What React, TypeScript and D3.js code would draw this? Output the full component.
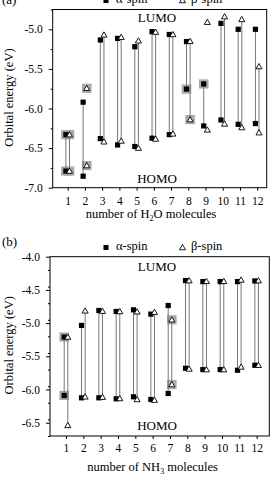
import React, { useEffect, useRef } from 'react';
import * as d3 from 'd3';

const molecules = [1, 2, 3, 4, 5, 6, 7, 8, 9, 10, 11, 12];

// (a) water clusters, orbital energies in eV
const h2oAlphaLumo = [-6.33, -5.92, -5.135, -5.115, -5.22, -5.03, -5.065, -5.155, -5.69, -4.925, -5.0, -5.0];
const h2oAlphaHomo = [-6.79, -6.855, -6.38, -6.46, -6.48, -6.375, -6.33, -5.755, -6.22, -6.145, -6.2, -6.19];
const h2oBetaLumo = [-6.33, -5.745, -5.07, -5.1, -5.145, -5.035, -5.065, -5.15, -4.91, -4.84, -4.875, -5.47];
const h2oBetaHomo = [-6.79, -6.72, -6.42, -6.41, -6.5, -6.385, -6.32, -6.14, -6.27, -6.195, -6.24, -6.305];
// highlighted (grey box) points, by molecule count
const h2oAlphaLumoMarked = [1, 9];
const h2oAlphaHomoMarked = [1, 8];
const h2oBetaLumoMarked = [1, 2];
const h2oBetaHomoMarked = [1, 2, 8];
// counts where no LUMO-HOMO connector is drawn
const h2oAlphaNoLine: number[] = [];
const h2oBetaNoLine = [2, 9];
const h2oTicks = [-7.0, -6.5, -6.0, -5.5, -5.0];

// (b) ammonia clusters
const nh3AlphaLumo = [-5.21, -5.035, -4.81, -4.825, -4.8, -4.865, -4.735, -4.36, -4.375, -4.375, -4.375, -4.365];
const nh3AlphaHomo = [-6.09, -6.125, -6.125, -6.14, -6.11, -6.15, -6.06, -5.68, -5.7, -5.7, -5.71, -5.635];
const nh3BetaLumo = [-5.21, -4.815, -4.82, -4.825, -4.83, -4.835, -4.95, -4.36, -4.37, -4.37, -4.35, -4.36];
const nh3BetaHomo = [-6.54, -6.11, -6.115, -6.135, -6.15, -6.16, -5.925, -5.69, -5.7, -5.7, -5.66, -5.635];
const nh3AlphaLumoMarked = [1];
const nh3AlphaHomoMarked = [1];
const nh3BetaLumoMarked = [7];
const nh3BetaHomoMarked = [7];
const nh3AlphaNoLine: number[] = [];
const nh3BetaNoLine: number[] = [];
const nh3Ticks = [-6.5, -6.0, -5.5, -5.0, -4.5, -4.0];

const FONT = '"Liberation Serif", "Times New Roman", serif';

const drawPanel = (svg, cfg) => {
  const x = d3.scaleLinear().domain(cfg.xDomain).range([cfg.left, cfg.right]);
  const y = d3.scaleLinear().domain(cfg.yDomain).range([cfg.bottom, cfg.top]);
  const g = svg.append('g');

  // grey highlight boxes
  const marks = [
    ...cfg.alphaLumoMarked.map(n => ({ n, v: cfg.alphaLumo[n - 1], dx: -1.8 })),
    ...cfg.alphaHomoMarked.map(n => ({ n, v: cfg.alphaHomo[n - 1], dx: -1.8 })),
    ...cfg.betaLumoMarked.map(n => ({ n, v: cfg.betaLumo[n - 1], dx: 1.8 })),
    ...cfg.betaHomoMarked.map(n => ({ n, v: cfg.betaHomo[n - 1], dx: 1.8 })),
  ];
  g.append('g').selectAll('rect').data(marks).join('rect')
    .attr('x', d => x(d.n) + d.dx - 4.8)
    .attr('y', d => y(d.v) - 4.6)
    .attr('width', 9.6)
    .attr('height', 9.2)
    .attr('fill', '#aaaaaa');

  // connectors
  const lines = [
    ...molecules.filter(n => !cfg.alphaNoLine.includes(n))
      .map(n => ({ n, a: cfg.alphaLumo[n - 1], b: cfg.alphaHomo[n - 1], dx: -1.8 })),
    ...molecules.filter(n => !cfg.betaNoLine.includes(n))
      .map(n => ({ n, a: cfg.betaLumo[n - 1], b: cfg.betaHomo[n - 1], dx: 1.8 })),
  ];
  g.append('g').selectAll('line').data(lines).join('line')
    .attr('x1', d => x(d.n) + d.dx).attr('x2', d => x(d.n) + d.dx)
    .attr('y1', d => y(d.a)).attr('y2', d => y(d.b))
    .attr('stroke', '#777').attr('stroke-width', 1);

  // alpha squares
  const alphaPts = molecules.flatMap(n => [
    { n, v: cfg.alphaLumo[n - 1] }, { n, v: cfg.alphaHomo[n - 1] },
  ]);
  g.append('g').selectAll('rect').data(alphaPts).join('rect')
    .attr('x', d => x(d.n) - 1.8 - 2.6)
    .attr('y', d => y(d.v) - 2.6)
    .attr('width', 5.2).attr('height', 5.2)
    .attr('fill', '#000');

  // beta triangles
  const betaPts = molecules.flatMap(n => [
    { n, v: cfg.betaLumo[n - 1] }, { n, v: cfg.betaHomo[n - 1] },
  ]);
  const tri = d3.symbol().type(d3.symbolTriangle).size(16);
  g.append('g').selectAll('path').data(betaPts).join('path')
    .attr('transform', d => `translate(${x(d.n) + 1.8},${y(d.v) + 0.5})`)
    .attr('d', tri())
    .attr('fill', '#fff').attr('stroke', '#000').attr('stroke-width', 0.9);

  // frame
  g.append('rect')
    .attr('x', cfg.left).attr('y', cfg.top)
    .attr('width', cfg.right - cfg.left).attr('height', cfg.bottom - cfg.top)
    .attr('fill', 'none').attr('stroke', '#000').attr('stroke-width', 1);

  // y axis: minor + major ticks
  const minor = d3.range(cfg.yDomain[0], cfg.yDomain[1] + 0.001, 0.25)
    .filter(v => !cfg.yTicks.some(t => Math.abs(t - v) < 1e-6));
  g.append('g').attr('transform', `translate(${cfg.left},0)`)
    .call(d3.axisLeft(y).tickValues(minor).tickSize(2).tickFormat(() => ''))
    .call(a => a.select('.domain').remove());
  g.append('g').attr('transform', `translate(${cfg.left},0)`)
    .call(d3.axisLeft(y).tickValues(cfg.yTicks).tickSize(4).tickPadding(6)
      .tickFormat(d => (+d).toFixed(1)))
    .call(a => a.select('.domain').remove())
    .call(a => a.selectAll('text').attr('font-family', FONT).attr('font-size', 11.5).attr('fill', '#000'));

  // x axis
  g.append('g').attr('transform', `translate(0,${cfg.bottom})`)
    .call(d3.axisBottom(x).tickValues(molecules).tickSize(3).tickPadding(cfg.xPad)
      .tickFormat(d => String(d)))
    .call(a => a.select('.domain').remove())
    .call(a => a.selectAll('text').attr('font-family', FONT).attr('font-size', 11.5).attr('fill', '#000'));

  // labels
  const txt = (xx, yy, s, size, anchor = 'middle') => g.append('text')
    .attr('x', xx).attr('y', yy).attr('text-anchor', anchor)
    .attr('font-family', FONT).attr('font-size', size).attr('fill', '#000').text(s);

  txt(cfg.midX, cfg.lumoY, 'LUMO', 13);
  txt(cfg.midX, cfg.homoY, 'HOMO', 13);
  txt(2, cfg.tagY, cfg.tag, 13, 'start');

  g.append('text')
    .attr('transform', `translate(13,${(cfg.top + cfg.bottom) / 2 - 1}) rotate(-90)`)
    .attr('text-anchor', 'middle')
    .attr('font-family', FONT).attr('font-size', 12.5).attr('fill', '#000')
    .text('Orbital energy (eV)');

  const xl = g.append('text')
    .attr('x', cfg.xLabelX).attr('y', cfg.xLabelY).attr('text-anchor', 'middle')
    .attr('font-family', FONT).attr('font-size', 12.5).attr('fill', '#000');
  xl.append('tspan').text(`number of ${cfg.formula[0]}`);
  xl.append('tspan').attr('dy', 3).attr('font-size', 8).text(cfg.formula[1]);
  xl.append('tspan').attr('dy', -3).text(`${cfg.formula[2]} molecules`);

  // legend
  const ly = cfg.legendY;
  g.append('rect').attr('x', 103.5).attr('y', ly - 5).attr('width', 5).attr('height', 5).attr('fill', '#000');
  txt(116, ly, 'α-spin', 12.5, 'start');
  g.append('path').attr('transform', `translate(182.5,${ly - 2})`).attr('d', tri())
    .attr('fill', '#fff').attr('stroke', '#000').attr('stroke-width', 0.9);
  txt(191, ly, 'β-spin', 12.5, 'start');
};

const App = () => {
  const ref = useRef(null);
  useEffect(() => {
    const svg = d3.select(ref.current);
    svg.selectAll('*').remove();
    drawPanel(svg, {
      left: 52.7, right: 266.7, top: 9.5, bottom: 187.7,
      xDomain: [0.13, 12.55], yDomain: [-7.0, -4.75], yTicks: h2oTicks, xPad: 6,
      alphaLumo: h2oAlphaLumo, alphaHomo: h2oAlphaHomo, betaLumo: h2oBetaLumo, betaHomo: h2oBetaHomo,
      alphaLumoMarked: h2oAlphaLumoMarked, alphaHomoMarked: h2oAlphaHomoMarked,
      betaLumoMarked: h2oBetaLumoMarked, betaHomoMarked: h2oBetaHomoMarked,
      alphaNoLine: h2oAlphaNoLine, betaNoLine: h2oBetaNoLine,
      midX: 157, lumoY: 21.5, homoY: 183, tag: '(a)', tagY: 4,
      xLabelX: 151, xLabelY: 218, formula: ['H', '2', 'O'], legendY: 3,
    });
    drawPanel(svg, {
      left: 50, right: 269.3, top: 256.7, bottom: 436,
      xDomain: [0.077, 12.73], yDomain: [-6.7, -4.0], yTicks: nh3Ticks, xPad: 4.5,
      alphaLumo: nh3AlphaLumo, alphaHomo: nh3AlphaHomo, betaLumo: nh3BetaLumo, betaHomo: nh3BetaHomo,
      alphaLumoMarked: nh3AlphaLumoMarked, alphaHomoMarked: nh3AlphaHomoMarked,
      betaLumoMarked: nh3BetaLumoMarked, betaHomoMarked: nh3BetaHomoMarked,
      alphaNoLine: nh3AlphaNoLine, betaNoLine: nh3BetaNoLine,
      midX: 157, lumoY: 270.5, homoY: 430, tag: '(b)', tagY: 246,
      xLabelX: 152.6, xLabelY: 471, formula: ['NH', '3', ''], legendY: 250,
    });
  }, []);
  return (
    <svg ref={ref} width={273} height={478}
      style={{ position: 'absolute', left: 0, top: 0, background: '#fff' }} />
  );
};

export default App;
